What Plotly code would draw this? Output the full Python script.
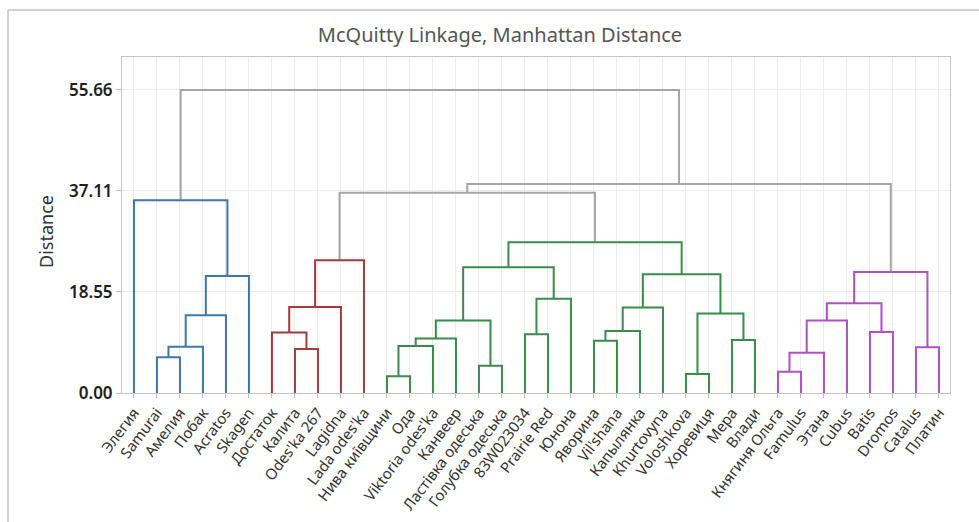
import plotly.graph_objects as go

# Leaf labels in dendrogram order
labels = [
    "Элегия", "Samurai", "Амелия", "Побак", "Acratos", "Skagen",
    "Достаток", "Калита", "Odes'ka 267", "Lagidna", "Lada odes'ka",
    "Нива київщини", "Ода", "Viktoria odes'ka", "Канвеер",
    "Ластівка одеська", "Голубка одеська", "83W023034", "Prairie Red",
    "Юнона", "Яворина", "Vil'shana", "Капылянка", "Khurtovyna",
    "Voloshkova", "Хоревиця", "Мера", "Влади",
    "Княгиня Ольга", "Famulus", "Этана", "Cubus", "Batis", "Dromos",
    "Catalus", "Платин",
]

# Final cluster membership of each leaf (1..4)
leaf_cluster = [1] * 6 + [2] * 5 + [3] * 17 + [4] * 8

# Linkage steps: (left id, right id, distance).
# Ids 0..35 are leaves; merge k creates cluster id 36 + k.
merges = [
    (1, 2, 6.55),      # 36
    (36, 3, 8.50),     # 37
    (37, 4, 14.30),    # 38
    (38, 5, 21.50),    # 39
    (0, 39, 35.40),    # 40
    (7, 8, 8.10),      # 41
    (6, 41, 11.10),    # 42
    (42, 9, 15.80),    # 43
    (43, 10, 24.40),   # 44
    (11, 12, 3.06),    # 45
    (45, 13, 8.63),    # 46
    (46, 14, 10.00),   # 47
    (15, 16, 5.02),    # 48
    (47, 48, 13.30),   # 49
    (17, 18, 10.80),   # 50
    (50, 19, 17.30),   # 51
    (49, 51, 23.10),   # 52
    (20, 21, 9.60),    # 53
    (53, 22, 11.40),   # 54
    (54, 23, 15.70),   # 55
    (24, 25, 3.49),    # 56
    (26, 27, 9.73),    # 57
    (56, 57, 14.60),   # 58
    (55, 58, 21.80),   # 59
    (52, 59, 27.70),   # 60
    (28, 29, 3.92),    # 61
    (61, 30, 7.40),    # 62
    (62, 31, 13.30),   # 63
    (32, 33, 11.20),   # 64
    (63, 64, 16.50),   # 65
    (34, 35, 8.38),    # 66
    (65, 66, 22.20),   # 67
    (44, 60, 36.80),   # 68
    (68, 67, 38.40),   # 69
    (40, 69, 55.66),   # 70
]

cluster_colors = {1: "#3f77ab", 2: "#a43a3c", 3: "#3a8c4a", 4: "#b050c8"}
link_grey = "#a6a6a6"

n = len(labels)
xpos = {i: i + 1 for i in range(n)}
height = {i: 0.0 for i in range(n)}
members = {i: {leaf_cluster[i]} for i in range(n)}

segments = {}
for k, (a, b, d) in enumerate(merges):
    cid = n + k
    xpos[cid] = (xpos[a] + xpos[b]) / 2
    height[cid] = d
    members[cid] = members[a] | members[b]
    if len(members[cid]) == 1:
        color = cluster_colors[next(iter(members[cid]))]
    else:
        color = link_grey
    xs, ys = segments.setdefault(color, ([], []))
    xs += [xpos[a], xpos[a], xpos[b], xpos[b], None]
    ys += [height[a], d, d, height[b], None]

fig = go.Figure()
for color in [link_grey] + list(cluster_colors.values()):
    xs, ys = segments[color]
    fig.add_trace(go.Scatter(
        x=xs, y=ys, mode="lines",
        line=dict(color=color, width=2),
        hoverinfo="skip", showlegend=False, cliponaxis=False,
    ))

top = merges[-1][2]
yticks = [top * i / 3 for i in range(4)]

L, R, T, B = 122, 29, 57, 129
W, H = 979, 522
pw, ph = W - L - R, H - T - B

def px_x(px):
    return (px - L) / pw

def px_y(py):
    return (H - B - py) / ph

fig.update_layout(
    width=W, height=H,
    margin=dict(l=L, r=R, t=T, b=B, pad=0, autoexpand=False),
    paper_bgcolor="white", plot_bgcolor="white",
    font=dict(family="Noto Sans, Open Sans, sans-serif", color="#333333"),
    title=dict(
        text="McQuitty Linkage, Manhattan Distance",
        x=500 / W, xref="container", xanchor="center",
        y=1 - 35 / H, yref="container", yanchor="middle",
        font=dict(size=20, color="#555555"),
    ),
    xaxis=dict(
        range=[0.48, n + 0.48],
        tickmode="array",
        tickvals=list(range(1, n + 1)),
        ticktext=labels,
        tickangle=-53,
        tickfont=dict(size=15, color="#333333"),
        ticks="outside", ticklen=4, tickcolor="#bdbdbd",
        showgrid=True, gridcolor="#ececec", gridwidth=1,
        showline=True, linecolor="#c4c4c4", linewidth=1, mirror=True,
        zeroline=False, automargin=False,
    ),
    yaxis=dict(
        range=[0, top + 6.05],
        tickmode="array",
        tickvals=yticks,
        ticktext=[f"{v:.2f}" for v in yticks],
        tickfont=dict(size=17, color="#1e1e1e", weight=600),
        ticks="outside", ticklen=5, tickcolor="#bdbdbd",
        showgrid=True, gridcolor="#ececec", gridwidth=1,
        showline=True, linecolor="#c4c4c4", linewidth=1, mirror=True,
        zeroline=False, automargin=False,
    ),
    annotations=[dict(
        text="Distance", textangle=-90,
        x=px_x(46), y=px_y(232), xref="paper", yref="paper",
        xanchor="center", yanchor="middle", showarrow=False,
        font=dict(size=18, color="#333333"),
    )],
    shapes=[
        dict(type="line", xref="paper", yref="paper",
             x0=px_x(8), x1=px_x(8), y0=px_y(10), y1=px_y(530),
             line=dict(color="#d0d0d0", width=2)),
        dict(type="line", xref="paper", yref="paper",
             x0=px_x(8), x1=px_x(990), y0=px_y(10), y1=px_y(10),
             line=dict(color="#d0d0d0", width=2)),
    ],
)

fig.write_html("out.html")
